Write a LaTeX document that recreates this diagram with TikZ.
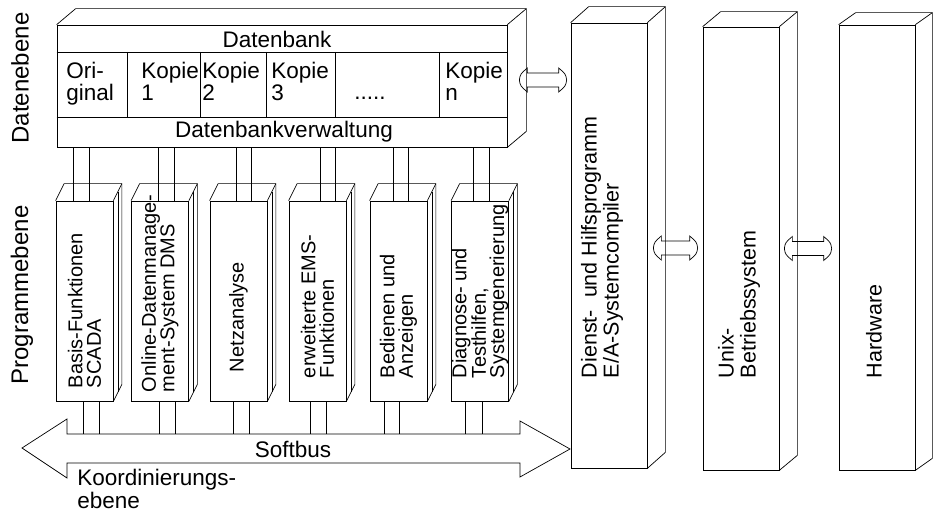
\documentclass[tikz,border=0pt]{standalone}
\usepackage{fontspec}
\setmainfont{Liberation Sans}
\usetikzlibrary{positioning,calc}

\tikzset{
  face/.style={draw, inner sep=0pt},
  htext/.style={inner sep=0pt, font=\fontsize{22.5}{20}\selectfont},
  vtext/.style={rotate=90, anchor=west, align=left, inner sep=0pt, font=\fontsize{20}{18.5}\selectfont},
  rtext/.style={vtext, font=\fontsize{21.5}{22}\selectfont},
  harrow/.style={to path={
    ($(\tikztostart)+(8pt,12pt)$) .. controls ($(\tikztostart)+(1pt,6pt)$) .. (\tikztostart)
    .. controls ($(\tikztostart)+(1pt,-6pt)$) .. ($(\tikztostart)+(8pt,-12pt)$)
    -- ($(\tikztostart)+(8pt,-7pt)$) -- ($(\tikztotarget)+(-8pt,-7pt)$) -- ($(\tikztotarget)+(-8pt,-12pt)$)
    .. controls ($(\tikztotarget)+(-1pt,-6pt)$) .. (\tikztotarget)
    .. controls ($(\tikztotarget)+(-1pt,6pt)$) .. ($(\tikztotarget)+(-8pt,12pt)$)
    -- ($(\tikztotarget)+(-8pt,7pt)$) -- ($(\tikztostart)+(8pt,7pt)$) -- cycle}},
}

% top and side face of a block
\newcommand\drawdepth[3]{%
  \draw (#1.north west) -- ++(#2,#3) -- ($(#1.north east)+(#2,#3)$)
        -- ($(#1.south east)+(#2,#3)$) -- (#1.south east);
  \draw (#1.north east) -- ++(#2,#3);
}

\begin{document}
\begin{tikzpicture}[x=1pt, y=-1pt, line width=0.7pt]
  \useasboundingbox (0,0) rectangle (939,513);

  \node[htext, font=\fontsize{24}{24}\selectfont, rotate=90] (datlbl) at (20,78) {Datenebene};
  \node[htext, font=\fontsize{24}{24}\selectfont, rotate=90] (proglbl) at (22,295) {Programmebene};

  \node[face, minimum width=450pt, minimum height=122pt] (dbank) at (282,86) {};
  \drawdepth{dbank}{19}{-16}
  \draw (dbank.west |- 0,52) -- (dbank.east |- 0,52)
        (dbank.west |- 0,117) -- (dbank.east |- 0,117);
  \foreach \x in {127,200,266,335,439}
    \draw (\x,52) -- (\x,117);
  \node[htext] (dbtitle) at (277,39) {Datenbank};
  \node[htext] (dbverw) at (284,132) {Datenbankverwaltung};
  \foreach \nm/\x/\txt in {orig/66/{Ori-\\ginal}, kop1/141/{Kopie\\1}, kop2/202/{Kopie\\2},
                          kop3/271/{Kopie\\3}, kopn/445/{Kopie\\n}}
    \node[htext, anchor=north west, align=left, font=\fontsize{22.5}{22}\selectfont] (\nm) at (\x,62) {\txt};
  \node[htext, anchor=base west] (dots) at (354,100) {.....};

  \foreach \n/\x in {1/84.5, 2/160, 3/238.5, 4/317.5, 5/398.5, 6/480}{
    \node[face, minimum width=57pt, minimum height=200pt] (p\n) at (\x,301) {};
    \drawdepth{p\n}{8.5}{-17}
    \draw ($(p\n.north east)+(4.5,-9)$) -- ($(p\n.south east)+(4.5,-9)$);
  }
  \node[vtext] (t1) at ($(p1.south)+(0,-13)$) {Basis-Funktionen\\SCADA};
  \node[vtext] (t2) at ($(p2.south)+(0,-9)$) {Online-Datenmanage-\\ment-System DMS};
  \node[vtext] (t3) at ($(p3.south)+(0,-29)$) {Netzanalyse};
  \node[vtext] (t4) at ($(p4.south)+(0,-23)$) {erweiterte EMS-\\Funktionen};
  \node[vtext] (t5) at ($(p5.south)+(0,-23)$) {Bedienen und\\Anzeigen};
  \node[vtext, font=\fontsize{20}{17}\selectfont] (t6) at ($(p6.south)+(0,-23)$)
    {Diagnose- und\\Testhilfen,\\Systemgenerierung};

  \foreach \n/\a/\b in {1/73/89, 2/158/174, 3/236/251, 4/320/335, 5/393/408, 6/473/489}
    \draw (\a,0 |- dbank.south) -- (\a,0 |- p\n.north)
          (\b,0 |- dbank.south) -- (\b,0 |- p\n.north);

  \coordinate (busL) at (22,448);
  \coordinate (busR) at (570,449);
  \coordinate (bustop) at (0,434);
  \draw (busL) -- (67,419) -- (67,434) -- (520,434) -- (520,421) -- (busR)
        -- (520,477) -- (520,463) -- (67,463) -- (67,478) -- cycle;
  \node[htext] (bus) at (293,449) {Softbus};
  \foreach \n/\a/\b in {1/83/99, 2/159/175, 3/233/249, 4/310/326, 5/384/399, 6/465/482}
    \draw (\a,0 |- p\n.south) -- (\a,0 |- bustop)
          (\b,0 |- p\n.south) -- (\b,0 |- bustop);
  \node[htext, anchor=north west, align=left, font=\fontsize{22.5}{23}\selectfont] (koord) at (77,469)
    {Koordinierungs-\\ebene};

  \node[face, minimum width=76pt, minimum height=445pt] (dienst) at (609,245.5) {};
  \node[face, minimum width=76pt, minimum height=443pt] (unix) at (741,248.5) {};
  \node[face, minimum width=76pt, minimum height=445pt] (hw) at (877,247.5) {};
  \drawdepth{dienst}{18}{-16}
  \drawdepth{unix}{18}{-15}
  \drawdepth{hw}{17}{-12}
  \node[rtext] (dtxt) at ($(dienst.south)+(-7,-90)$) {Dienst-~ und Hilfsprogramm\\E/A-Systemcompiler};
  \node[rtext] (utxt) at ($(unix.south)+(-2,-92)$) {Unix-\\Betriebssystem};
  \node[rtext] (htxt) at ($(hw.south)+(-3,-92)$) {Hardware};

  \coordinate (dbR) at ($(dbank.east)+(12,-6)$);
  \coordinate (dnL) at ($(dbR -| dienst.west)+(-4,0)$);
  \coordinate (dnR) at ($(dienst.east)+(6,2.5)$);
  \coordinate (uxL) at ($(dnR -| unix.west)+(-5,0)$);
  \coordinate (uxR) at ($(unix.east)+(5,0)$);
  \coordinate (hwL) at ($(uxR -| hw.west)+(-7,0)$);
  \draw (dbR) to[harrow] (dnL);
  \draw (dnR) to[harrow] (uxL);
  \draw (uxR) to[harrow] (hwL);
\end{tikzpicture}
\end{document}
